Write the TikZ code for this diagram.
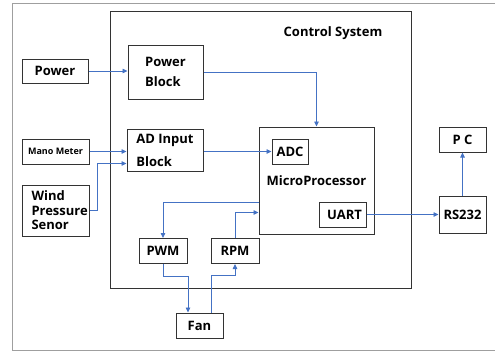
\documentclass[tikz,border=0pt]{standalone}
\usepackage{fontspec}
\setmainfont{Open Sans}
\usetikzlibrary{arrows.meta}
\definecolor{lineblue}{HTML}{4472C4}
\tikzset{
  box/.style={draw=black!80, line width=1pt, inner sep=0pt, font=\fontsize{13}{16}\selectfont\bfseries},
  arr/.style={draw=lineblue, line width=0.8pt, -{Triangle[width=4.5pt,length=5pt]}},
  ln/.style={draw=lineblue, line width=0.8pt},
}
\begin{document}
\begin{tikzpicture}[x=1pt,y=-1pt]
\useasboundingbox (0,0) rectangle (495,351);
% outer frame
\draw[gray!75, line width=1pt] (495,3) -- (12,3) -- (12,350) -- (495,350);
% control system box
\node[draw=black!80, line width=0.9pt, minimum width=301pt, minimum height=277pt, inner sep=0pt] (cs) at (260.5,149.5) {};
\node[font=\fontsize{13}{16}\selectfont\bfseries] (cstitle) at (333,33.5) {Control System};
% blocks
\node[box, minimum width=66pt, minimum height=24pt] (power) at (55,71) {Power};
\node[box, minimum width=75pt, minimum height=54pt, align=left, font=\fontsize{13}{20}\selectfont\bfseries] (pblock) at (165.5,72) {Power\\Block};
\node[box, minimum width=67pt, minimum height=25pt, font=\fontsize{9}{11}\selectfont\bfseries] (mano) at (55.5,151.5) {Mano Meter};
\node[box, minimum width=76pt, minimum height=42pt, align=left, font=\fontsize{13}{23}\selectfont\bfseries] (ad) at (165,150) {AD Input\\Block};
\node[box, minimum width=67pt, minimum height=51pt, align=left, font=\fontsize{13}{14.5}\selectfont\bfseries, text width=48pt] (wind) at (55.5,210.5) {Wind\\Pressure\\Senor};
\node[box, minimum width=115pt, minimum height=107pt] (mcu) at (316.5,180.5) {MicroProcessor};
\node[box, minimum width=36pt, minimum height=25pt] (adc) at (290,151.5) {ADC};
\node[box, minimum width=47pt, minimum height=25pt] (uart) at (342.5,214.5) {\hspace{4pt}UART};
\node[box, minimum width=47pt, minimum height=37pt] (rs) at (462.5,214.5) {RS232};
\node[box, minimum width=47pt, minimum height=25pt] (pc) at (462.5,139.5) {P C};
\node[box, minimum width=48pt, minimum height=25pt] (pwm) at (163,251) {PWM};
\node[box, minimum width=48pt, minimum height=25pt] (rpm) at (235,251) {RPM};
\node[box, minimum width=47pt, minimum height=25pt] (fan) at (199.5,325.5) {Fan};
% connectors
\draw[arr] (power.east) -- (power.east -| pblock.west);
\draw[arr] (pblock.east) -| (mcu.north);
\draw[arr] (mano.east) -- (mano.east -| ad.west);
\draw[arr] (wind.east) -- ++(8,0) |- ([yshift=8pt]ad.south west);
\draw[arr] (ad.east |- adc.west) -- (adc.west);
\draw[arr] ([yshift=32pt]mcu.south west) -| (pwm.north);
\draw[arr] (rpm.north) |- ([yshift=22pt]mcu.south west);
\draw[arr] (pwm.south) -- ++(0,12) -| ([xshift=-11.5pt]fan.north);
\draw[arr] ([xshift=11.5pt]fan.north) -- ++(0,-37) -| (rpm.south);
\draw[arr] (uart.east) -- (rs.west);
\draw[arr] (rs.north) -- (pc.south);
\end{tikzpicture}
\end{document}
